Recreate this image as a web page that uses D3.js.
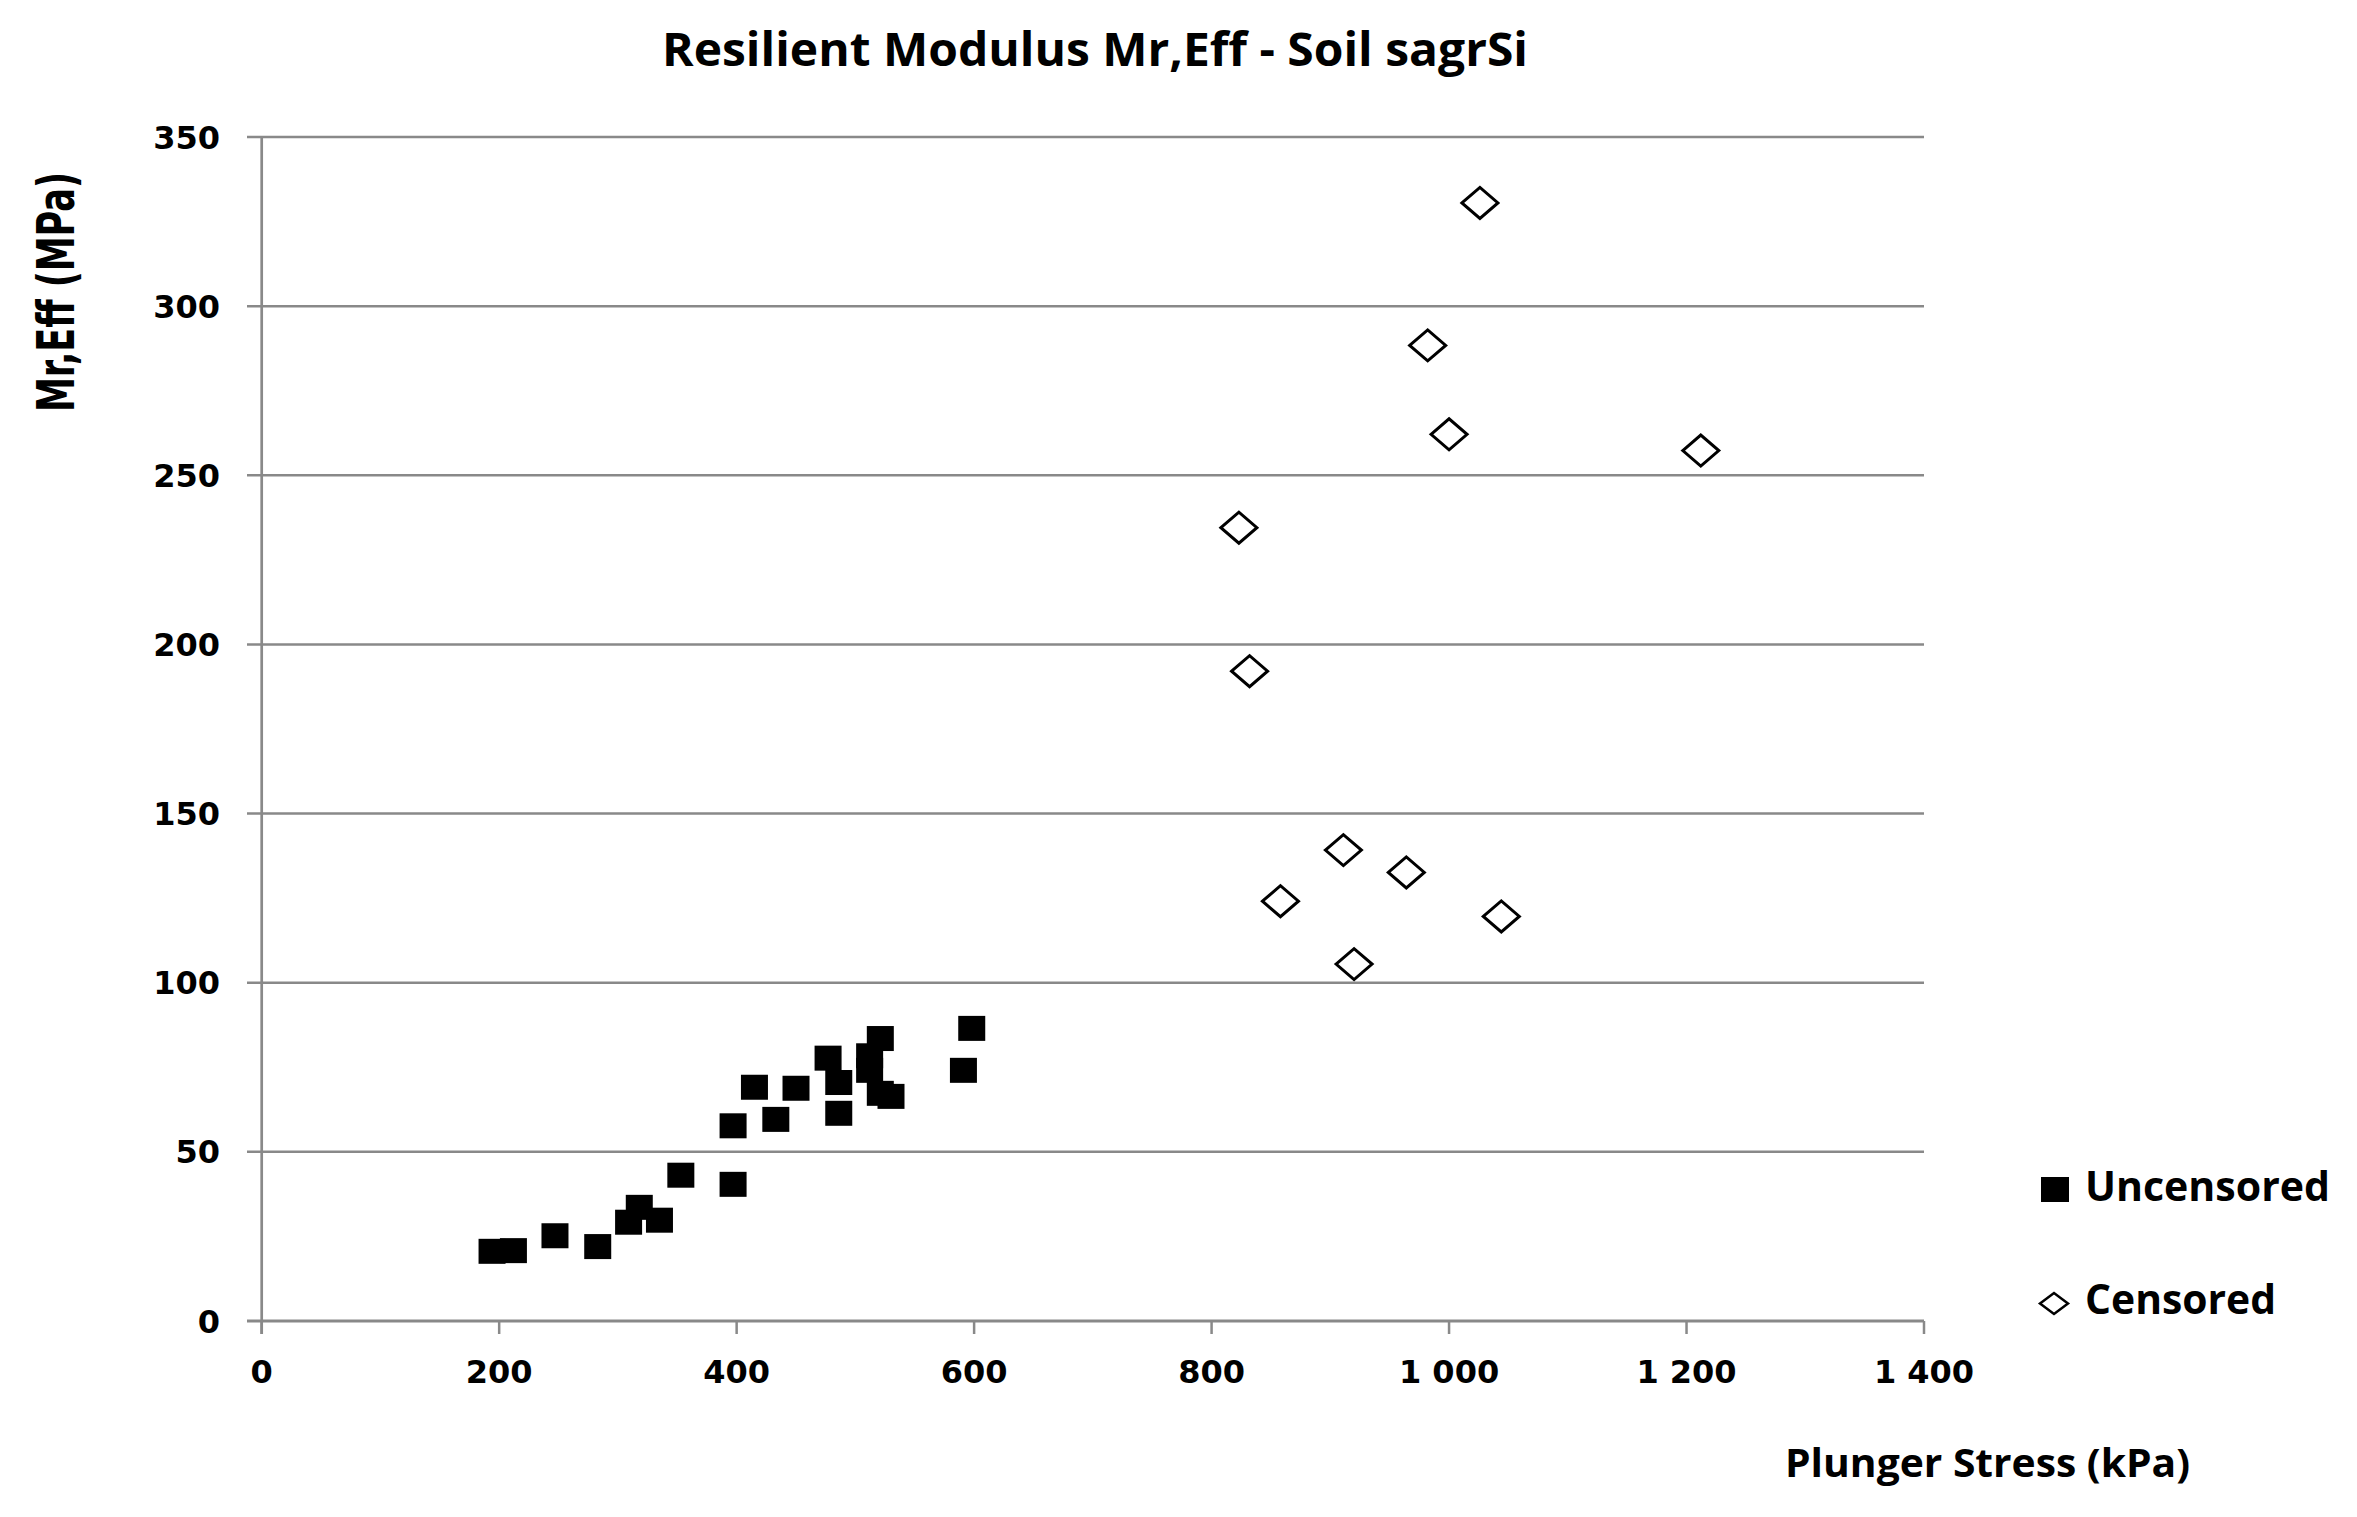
<!DOCTYPE html>
<html>
<head>
<meta charset="utf-8">
<script src="https://cdn.jsdelivr.net/npm/d3@7"></script>
<style>
  html, body { margin: 0; padding: 0; background: #ffffff; }
  svg { display: block; }
</style>
</head>
<body>
<svg id="chart" width="2357" height="1517"></svg>
<script>
// ---- data ----
const chartTitle = "Resilient Modulus Mr,Eff - Soil sagrSi";
const xTitle = "Plunger Stress (kPa)";
const yTitle = "Mr,Eff (MPa)";
const seriesNames = ["Uncensored", "Censored"];

const uncensoredX = [194, 212, 247, 283, 309, 318, 335, 353, 397, 397, 415, 433, 450, 477, 486, 486, 512, 512, 521, 521, 530, 591, 598];
const uncensoredY = [20.6, 20.8, 25.2, 22.0, 29.2, 33.6, 29.8, 43.1, 40.4, 57.7, 69.1, 59.6, 68.8, 77.7, 70.5, 61.4, 78.4, 74.1, 83.5, 67.3, 66.4, 74.1, 86.5];

const censoredX = [1026, 982, 1000, 1212, 823, 832, 911, 964, 858, 1044, 920];
const censoredY = [330.5, 288.4, 262.1, 257.3, 234.5, 192.1, 139.2, 132.6, 124.1, 119.6, 105.5];

const xTicks = [0, 200, 400, 600, 800, 1000, 1200, 1400];
const xTickLabels = ["0", "200", "400", "600", "800", "1 000", "1 200", "1 400"];
const yTicks = [0, 50, 100, 150, 200, 250, 300, 350];
const yTickLabels = ["0", "50", "100", "150", "200", "250", "300", "350"];

// ---- layout ----
const svg = d3.select("#chart");
const gridColor = "#898989";
const x = d3.scaleLinear().domain([0, 1400]).range([261.7, 1924]);
const y = d3.scaleLinear().domain([0, 350]).range([1321, 137]);

const tickFont = "'DejaVu Sans', Verdana, sans-serif";
const titleFont = "'Open Sans', 'DejaVu Sans', sans-serif";

// horizontal gridlines (with left tick stubs)
svg.append("g").selectAll("line").data(yTicks).join("line")
  .attr("x1", 247).attr("x2", x(1400))
  .attr("y1", d => y(d)).attr("y2", d => y(d))
  .attr("stroke", gridColor).attr("stroke-width", d => d === 0 ? 3 : 2.5);

// vertical axis line
svg.append("line")
  .attr("x1", x(0)).attr("x2", x(0))
  .attr("y1", y(350)).attr("y2", y(0) + 13)
  .attr("stroke", gridColor).attr("stroke-width", 2.7);

// x tick marks
svg.append("g").selectAll("line").data(xTicks).join("line")
  .attr("x1", d => x(d)).attr("x2", d => x(d))
  .attr("y1", y(0)).attr("y2", y(0) + 13)
  .attr("stroke", gridColor).attr("stroke-width", 2.5);

// y tick labels
svg.append("g").selectAll("text").data(yTicks).join("text")
  .attr("x", 220).attr("y", d => y(d)).attr("dy", "0.36em")
  .attr("text-anchor", "end")
  .attr("font-family", tickFont).attr("font-weight", "bold").attr("font-size", 32)
  .attr("fill", "#000")
  .text((d, i) => yTickLabels[i]);

// x tick labels
svg.append("g").selectAll("text").data(xTicks).join("text")
  .attr("x", d => x(d)).attr("y", 1383)
  .attr("text-anchor", "middle")
  .attr("font-family", tickFont).attr("font-weight", "bold").attr("font-size", 32)
  .attr("fill", "#000")
  .text((d, i) => xTickLabels[i]);

// title
svg.append("text")
  .attr("x", 662).attr("y", 66)
  .attr("font-family", titleFont).attr("font-weight", "bold").attr("font-size", 47)
  .attr("textLength", 866).attr("lengthAdjust", "spacingAndGlyphs")
  .attr("fill", "#000")
  .text(chartTitle);

// x axis title
svg.append("text")
  .attr("x", 1785).attr("y", 1477)
  .attr("font-family", titleFont).attr("font-weight", "bold").attr("font-size", 40)
  .attr("textLength", 405).attr("lengthAdjust", "spacingAndGlyphs")
  .attr("fill", "#000")
  .text(xTitle);

// y axis title
svg.append("text")
  .attr("transform", "translate(74,412) rotate(-90)")
  .attr("x", 0).attr("y", 0)
  .attr("font-family", tickFont).attr("font-weight", "bold").attr("font-size", 52)
  .attr("textLength", 240).attr("lengthAdjust", "spacingAndGlyphs")
  .attr("fill", "#000")
  .text(yTitle);

// markers
const uncensored = uncensoredX.map((v, i) => ({x: v, y: uncensoredY[i]}));
const censored = censoredX.map((v, i) => ({x: v, y: censoredY[i]}));

const sqW = 27, sqH = 25;
svg.append("g").selectAll("rect").data(uncensored).join("rect")
  .attr("x", d => x(d.x) - sqW / 2).attr("y", d => y(d.y) - sqH / 2)
  .attr("width", sqW).attr("height", sqH)
  .attr("fill", "#000");

function diamondPath(cx, cy, w, h) {
  return `M${cx - w / 2},${cy} L${cx},${cy - h / 2} L${cx + w / 2},${cy} L${cx},${cy + h / 2} Z`;
}
svg.append("g").selectAll("path").data(censored).join("path")
  .attr("d", d => diamondPath(x(d.x), y(d.y), 36, 31))
  .attr("fill", "#fff").attr("stroke", "#000").attr("stroke-width", 3);

// legend
const leg = svg.append("g");
leg.append("rect").attr("x", 2041).attr("y", 1177).attr("width", 28).attr("height", 25).attr("fill", "#000");
leg.append("text")
  .attr("x", 2085).attr("y", 1201)
  .attr("font-family", titleFont).attr("font-weight", "bold").attr("font-size", 42)
  .attr("textLength", 245).attr("lengthAdjust", "spacingAndGlyphs")
  .attr("fill", "#000").text(seriesNames[0]);
leg.append("path").attr("d", diamondPath(2054, 1303.5, 28, 21))
  .attr("fill", "#fff").attr("stroke", "#000").attr("stroke-width", 2.5);
leg.append("text")
  .attr("x", 2085).attr("y", 1314)
  .attr("font-family", titleFont).attr("font-weight", "bold").attr("font-size", 42)
  .attr("textLength", 191).attr("lengthAdjust", "spacingAndGlyphs")
  .attr("fill", "#000").text(seriesNames[1]);
</script>
</body>
</html>
